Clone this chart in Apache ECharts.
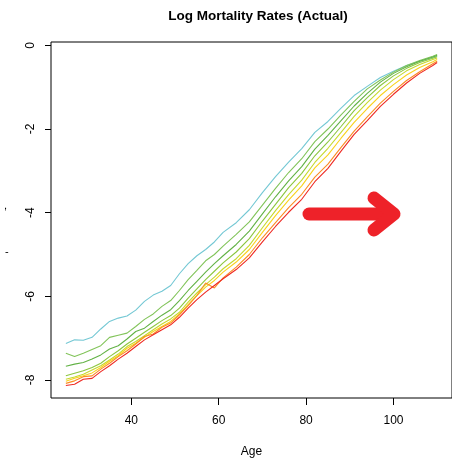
<!DOCTYPE html>
<html>
<head>
<meta charset="utf-8">
<script src="https://cdn.jsdelivr.net/npm/echarts@6/dist/echarts.min.js"></script>
<style>
  html, body { margin: 0; padding: 0; background: #fff; }
  #chart { width: 452px; height: 463px; }
</style>
</head>
<body>
<div id="chart"></div>
<script>
var ages = [25, 27, 29, 31, 33, 35, 37, 39, 41, 43, 45, 47, 49, 51, 53, 55, 57, 59, 61,
  64, 67, 70, 73, 76, 79, 82, 85, 88, 91, 94, 97, 100, 103, 106, 109, 110];

// one list per curve, top (cyan) to bottom (red)
var rates1 = [-7.13, -7.04, -7.05, -6.98, -6.78, -6.6, -6.52, -6.47, -6.33, -6.12, -5.97, -5.88, -5.74, -5.46, -5.22, -5.03, -4.88, -4.7, -4.47,
  -4.24, -3.93, -3.52, -3.14, -2.79, -2.47, -2.08, -1.82, -1.5, -1.2, -0.98, -0.77, -0.62, -0.48, -0.38, -0.29, -0.26];
var rates2 = [-7.36, -7.44, -7.36, -7.27, -7.18, -6.98, -6.93, -6.88, -6.72, -6.55, -6.42, -6.24, -6.1, -5.86, -5.6, -5.38, -5.15, -5.0, -4.8,
  -4.52, -4.22, -3.82, -3.42, -3.04, -2.71, -2.3, -2.0, -1.66, -1.34, -1.04, -0.83, -0.64, -0.48, -0.36, -0.26, -0.22];
var rates3 = [-7.67, -7.62, -7.58, -7.5, -7.4, -7.26, -7.18, -7.02, -6.84, -6.76, -6.6, -6.45, -6.32, -6.1, -5.86, -5.64, -5.42, -5.22, -5.03,
  -4.76, -4.44, -4.03, -3.62, -3.24, -2.9, -2.48, -2.15, -1.8, -1.45, -1.15, -0.88, -0.67, -0.51, -0.38, -0.28, -0.24];
var rates4 = [-7.9, -7.84, -7.78, -7.7, -7.6, -7.44, -7.3, -7.14, -7.0, -6.86, -6.72, -6.58, -6.46, -6.28, -6.04, -5.82, -5.6, -5.4, -5.2,
  -4.94, -4.62, -4.2, -3.8, -3.4, -3.06, -2.64, -2.31, -1.94, -1.56, -1.25, -0.96, -0.73, -0.55, -0.41, -0.31, -0.27];
var rates5 = [-7.98, -7.93, -7.86, -7.76, -7.66, -7.52, -7.38, -7.2, -7.08, -6.94, -6.8, -6.66, -6.54, -6.38, -6.14, -5.92, -5.72, -5.54, -5.34,
  -5.1, -4.78, -4.36, -3.95, -3.57, -3.22, -2.8, -2.46, -2.08, -1.7, -1.37, -1.07, -0.82, -0.61, -0.46, -0.34, -0.3];
var rates6 = [-8.03, -7.96, -7.9, -7.83, -7.7, -7.55, -7.42, -7.24, -7.12, -6.98, -6.84, -6.72, -6.6, -6.42, -6.2, -5.98, -5.78, -5.62, -5.42,
  -5.18, -4.88, -4.47, -4.07, -3.7, -3.36, -2.93, -2.62, -2.22, -1.84, -1.51, -1.2, -0.94, -0.71, -0.53, -0.39, -0.34];
var rates7 = [-8.08, -8.02, -7.92, -7.9, -7.74, -7.6, -7.44, -7.3, -7.14, -6.96, -6.9, -6.74, -6.64, -6.44, -6.22, -5.98, -5.68, -5.8, -5.56,
  -5.3, -5.0, -4.6, -4.24, -3.88, -3.56, -3.15, -2.84, -2.44, -2.05, -1.71, -1.38, -1.1, -0.84, -0.63, -0.44, -0.38];
var rates8 = [-8.13, -8.1, -7.98, -7.96, -7.8, -7.66, -7.5, -7.36, -7.2, -7.04, -6.92, -6.8, -6.68, -6.5, -6.28, -6.08, -5.9, -5.74, -5.58,
  -5.36, -5.08, -4.7, -4.33, -3.99, -3.68, -3.26, -2.94, -2.53, -2.13, -1.8, -1.46, -1.17, -0.9, -0.67, -0.48, -0.41];

var xTicks = [40, 60, 80, 100];
var yTicks = [-8, -6, -4, -2, 0];

var curves = [rates1, rates2, rates3, rates4, rates5, rates6, rates7, rates8];
var colors = ['#74C8D4', '#82C45A', '#63B246', '#8CC63F', '#C5D92D', '#F9D21C', '#FB8C23', '#EE2A24'];

var arrowRed = '#EE2229';
var font = 'Liberation Sans, Arial, sans-serif';

function pairs(ys) {
  var out = [];
  for (var i = 0; i < ages.length; i++) {
    out.push([ages[i], ys[i]]);
  }
  return out;
}

var series = [];
for (var k = 0; k < curves.length; k++) {
  series.push({
    type: 'line',
    data: pairs(curves[k]),
    symbol: 'none',
    smooth: false,
    lineStyle: { color: colors[k], width: 1.1 },
    z: 2 + k
  });
}

var chart = echarts.init(document.getElementById('chart'), null, { renderer: 'canvas' });
chart.setOption({
  animation: false,
  backgroundColor: '#fff',
  title: {
    text: 'Log Mortality Rates (Actual)',
    left: 253,
    top: 4,
    textAlign: 'center',
    textStyle: { fontFamily: font, fontSize: 13.5, fontWeight: 'bold', color: '#000' }
  },
  grid: {
    left: 51, top: 42, width: 404, height: 360,
    show: true, borderColor: '#000', borderWidth: 1, backgroundColor: 'transparent'
  },
  xAxis: {
    type: 'value',
    min: 21.6,
    max: 113.4,
    name: 'Age',
    nameLocation: 'middle',
    nameGap: 48,
    nameTextStyle: { fontFamily: font, fontSize: 12, color: '#000' },
    axisLine: { show: false, onZero: false },
    axisTick: { show: true, length: 7, customValues: xTicks, lineStyle: { color: '#000' } },
    axisLabel: { customValues: xTicks, margin: 17, fontFamily: font, fontSize: 12, color: '#000' },
    splitLine: { show: false }
  },
  yAxis: {
    type: 'value',
    min: -8.43,
    max: 0.08,
    axisLine: { show: false, onZero: false },
    axisTick: { show: true, length: 6, customValues: yTicks, lineStyle: { color: '#000' } },
    axisLabel: { customValues: yTicks, rotate: 90, margin: 14, fontFamily: font, fontSize: 12, color: '#000' },
    splitLine: { show: false }
  },
  graphic: [
    {
      type: 'text', left: 4, top: 200,
      style: { text: ',', fontFamily: font, fontSize: 11, fill: '#000' }
    },
    {
      type: 'text', left: 5, top: 246,
      style: { text: '-', fontFamily: font, fontSize: 11, fill: '#000' }
    },
    {
      type: 'polyline',
      shape: { points: [[309, 214], [393, 214]] },
      style: { stroke: arrowRed, lineWidth: 13, lineCap: 'round', fill: null },
      z: 100
    },
    {
      type: 'polyline',
      shape: { points: [[374, 198], [394, 214], [374, 230]] },
      style: { stroke: arrowRed, lineWidth: 13, lineCap: 'round', lineJoin: 'round', fill: null },
      z: 100
    }
  ],
  series: series
});
</script>
</body>
</html>
